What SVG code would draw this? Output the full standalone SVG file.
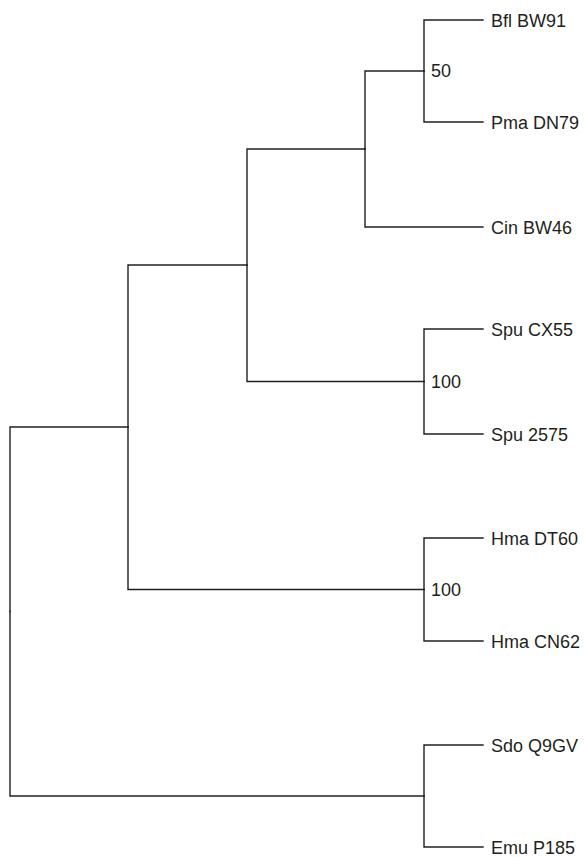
<svg xmlns="http://www.w3.org/2000/svg" width="584" height="857" viewBox="0 0 584 857">
<style>
.e{fill:none;stroke:#231f20;stroke-width:1.4;stroke-linecap:square}
.t{font-family:"Liberation Sans",Arial,sans-serif;font-size:18px;fill:#231f20}
</style>
<rect width="584" height="857" fill="#fff"/>
<g id="connectors">
<path class="e" d="M10,611.5 V427 H128"/>
<path class="e" d="M10,611.5 V796 H424"/>
<path class="e" d="M128,427 V265 H247"/>
<path class="e" d="M128,427 V589.5 H424"/>
<path class="e" d="M247,265 V149 H365"/>
<path class="e" d="M247,265 V381.5 H424"/>
<path class="e" d="M365,149 V71 H424"/>
<path class="e" d="M365,149 V227 H483"/>
<path class="e" d="M424,71 V20 H483"/>
<path class="e" d="M424,71 V122 H483"/>
<path class="e" d="M424,381.5 V329 H483"/>
<path class="e" d="M424,381.5 V434 H483"/>
<path class="e" d="M424,589.5 V538 H483"/>
<path class="e" d="M424,589.5 V641 H483"/>
<path class="e" d="M424,796 V745 H483"/>
<path class="e" d="M424,796 V847 H483"/>
</g>
<g id="n_bfl_pma"><text class="t" x="431" y="77">50</text></g>
<g id="n_spu"><text class="t" x="431" y="388">100</text></g>
<g id="n_hma"><text class="t" x="431" y="596">100</text></g>
<g id="leaf_bfl"><text class="t" x="491" y="27">Bfl BW91</text></g>
<g id="leaf_pma"><text class="t" x="491" y="129">Pma DN79</text></g>
<g id="leaf_cin"><text class="t" x="491" y="234">Cin BW46</text></g>
<g id="leaf_spu1"><text class="t" x="491" y="336">Spu CX55</text></g>
<g id="leaf_spu2"><text class="t" x="491" y="441">Spu 2575</text></g>
<g id="leaf_hma1"><text class="t" x="491" y="545">Hma DT60</text></g>
<g id="leaf_hma2"><text class="t" x="491" y="648">Hma CN62</text></g>
<g id="leaf_sdo"><text class="t" x="491" y="752">Sdo Q9GV</text></g>
<g id="leaf_emu"><text class="t" x="491" y="854">Emu P185</text></g>
</svg>
